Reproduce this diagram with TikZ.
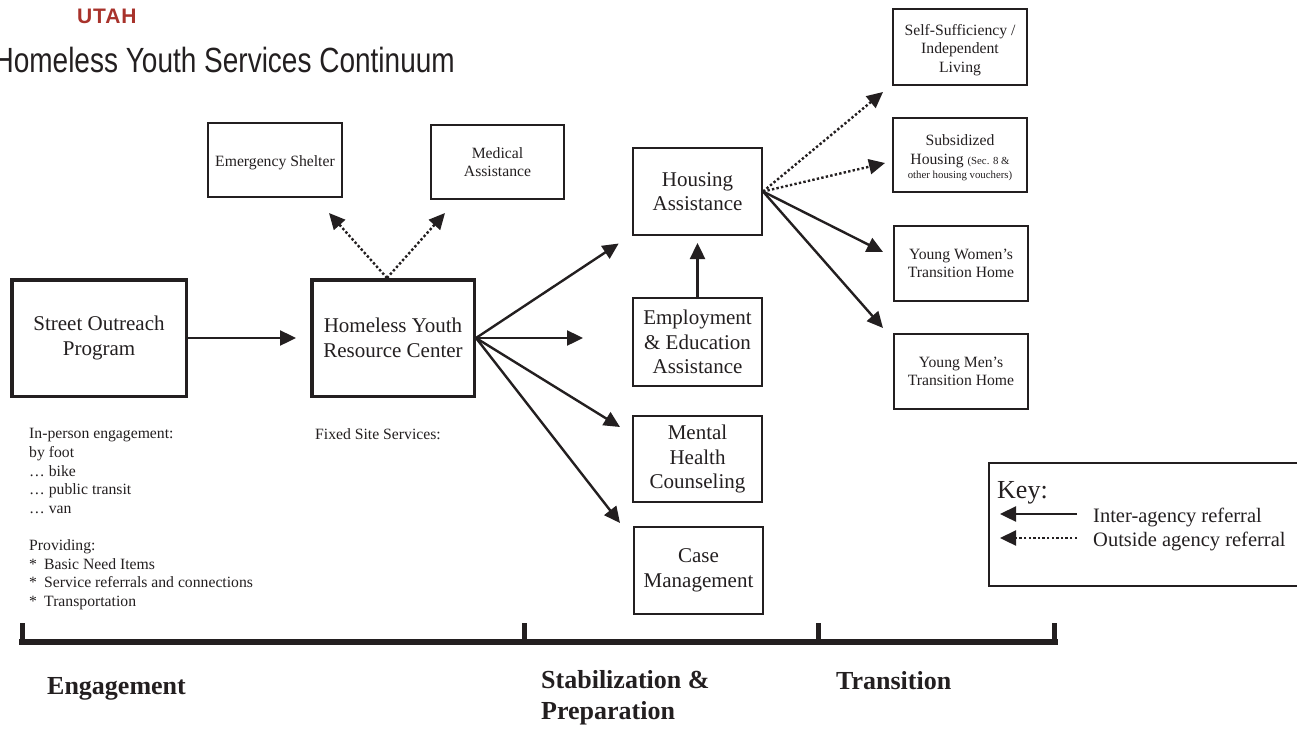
\documentclass[tikz,border=0pt]{standalone}
\usepackage{fontspec}
\usepackage{graphicx}
\setmainfont{Liberation Serif}
\newfontfamily\titlefont{Liberation Sans}
\newfontfamily\utahfont[LetterSpace=4]{Liberation Sans}
\usetikzlibrary{arrows.meta}
\definecolor{ink}{HTML}{231F20}
\definecolor{utahred}{HTML}{A8322B}
\newcommand{\bigfnt}{\fontsize{21}{24.5}\selectfont}
\newcommand{\smfnt}{\fontsize{15.7}{18.6}\selectfont}
\newcommand{\tinyfnt}{\fontsize{10.8}{12}\selectfont}
\newcommand{\lblfnt}{\fontsize{26}{31}\selectfont\bfseries}
\begin{document}
\begin{tikzpicture}[x=1pt,y=-1pt,
  box/.style={draw=ink, line width=2pt, inner sep=0pt, align=center, text=ink, font=\bigfnt},
  smbox/.style={box, font=\smfnt},
  thickbox/.style={box, line width=3.5pt},
  con/.style={draw=ink, line width=2.4pt, -{Triangle[length=16pt,width=15pt]}},
  dotcon/.style={con, dash pattern=on 2.4pt off 2.2pt},
  plain/.style={inner sep=0pt, text=ink, align=left, font=\smfnt},
  phase/.style={inner sep=0pt, text=ink, align=left, font=\lblfnt, anchor=base west}]
\useasboundingbox (0,0) rectangle (1297,728);

% titles
\node[anchor=base west, inner sep=0pt, text=utahred, font=\utahfont\fontsize{21}{21}\selectfont\bfseries] (utah) at (77,23) {UTAH};
\node[anchor=base east, inner sep=0pt, text=ink, font=\titlefont\fontsize{35}{35}\selectfont] (title) at (455,72) {\scalebox{0.8}[1]{Homeless Youth Services Continuum}};

% main boxes
\node[thickbox, minimum width=174.5pt, minimum height=116.5pt] (so) at (99,338) {Street Outreach\\Program};
\node[thickbox, minimum width=162.5pt, minimum height=116.5pt] (hyrc) at (393,338) {Homeless Youth\\Resource Center};
\node[smbox, minimum width=134pt, minimum height=74pt] (shelter) at (275,160) {\rule{0pt}{16.5pt}Emergency Shelter};
\node[smbox, minimum width=133pt, minimum height=74pt] (medical) at (497.5,162) {Medical\\Assistance};
\node[box, minimum width=129pt, minimum height=87pt] (housing) at (697.5,191.5) {Housing\\Assistance};
\node[box, minimum width=129pt, minimum height=88pt] (emp) at (697.5,342) {Employment\\\& Education\\Assistance};
\node[box, minimum width=129pt, minimum height=86pt] (mental) at (697.5,459) {Mental\\Health\\Counseling};
\node[box, minimum width=129pt, minimum height=87pt] (case) at (698.5,570.5) {Case\\Management};
\node[smbox, minimum width=134pt, minimum height=76pt] (self) at (960,47) {\rule{0pt}{16.7pt}Self-Sufficiency /\\Independent\\Living};
\node[smbox, minimum width=134pt, minimum height=74pt] (subs) at (960,155) {\rule{0pt}{16pt}Subsidized\\Housing {\tinyfnt(Sec. 8 \&}\\[-4.5pt]{\tinyfnt other housing vouchers)}};
\node[smbox, minimum width=134pt, minimum height=75pt] (women) at (961,263.5) {Young Women’s\\Transition Home};
\node[smbox, minimum width=134pt, minimum height=75pt] (men) at (961,371.5) {Young Men’s\\Transition Home};

% free ends of connectors
\coordinate (hyrctop) at ([xshift=-6pt]hyrc.north);
\coordinate (tipSh) at (329,213);
\coordinate (tipMd) at (445,213);
\coordinate (tipE) at (583,338);
\coordinate (tipM) at (620,427);
\coordinate (tipC) at (620,523);
\coordinate (tipS1) at (883,92);
\coordinate (tipS2) at (885,163);
\coordinate (tipW) at (883,252);
\coordinate (tipY) at (883,328);

% connectors
\draw[con, shorten >=14pt] (so.east) -- (hyrc.west);
\draw[dotcon] (hyrctop) -- (tipSh);
\draw[dotcon] (hyrctop) -- (tipMd);
\draw[con, shorten >=16pt] (hyrc.east) -- (housing);
\draw[con] (hyrc.east) -- (tipE);
\draw[con] (hyrc.east) -- (tipM);
\draw[con] (hyrc.east) -- (tipC);
\draw[con, shorten >=7pt] (emp.north) -- (housing.south);
\draw[dotcon] (housing.east) -- (tipS1);
\draw[dotcon] (housing.east) -- (tipS2);
\draw[con] (housing.east) -- (tipW);
\draw[con] (housing.east) -- (tipY);

% descriptive text
\node[plain, anchor=north west] (street) at (29,428.5) {In-person engagement:\\by foot\\… bike\\… public transit\\… van\\[18.6pt]Providing:\\\makebox[15pt][l]{*}Basic Need Items\\\makebox[15pt][l]{*}Service referrals and connections\\\makebox[15pt][l]{*}Transportation};
\node[plain, anchor=north west] (fixed) at (315,428.5) {Fixed Site Services:};

% timeline
\draw[ink, line width=6pt] (19,642) -- (1058,642);
\foreach \tx in {22,524,818,1054} \draw[ink, line width=5pt] (\tx,623) -- (\tx,642);
\node[phase] (eng) at (47,694) {Engagement};
\node[phase] (stab) at (541,719) {Stabilization \&\\Preparation};
\node[phase] (trans) at (836,689) {Transition};

% key
\draw[ink, line width=1.6pt] (988.8,462.8) rectangle (1320,586.2);
\node[anchor=base west, inner sep=0pt, text=ink, font=\fontsize{26}{26}\selectfont] (keyt) at (997,498) {Key:};
\coordinate (k1a) at (1077,514);
\coordinate (k1b) at (1000,514);
\coordinate (k2a) at (1077,538);
\coordinate (k2b) at (1000,538);
\draw[con] (k1a) -- (k1b);
\draw[dotcon] (k2a) -- (k2b);
\node[anchor=base west, inner sep=0pt, text=ink, font=\fontsize{20.5}{20.5}\selectfont] (k1t) at (1093,522) {Inter-agency referral};
\node[anchor=base west, inner sep=0pt, text=ink, font=\fontsize{20.5}{20.5}\selectfont] (k2t) at (1093,546) {Outside agency referral};
\end{tikzpicture}
\end{document}
